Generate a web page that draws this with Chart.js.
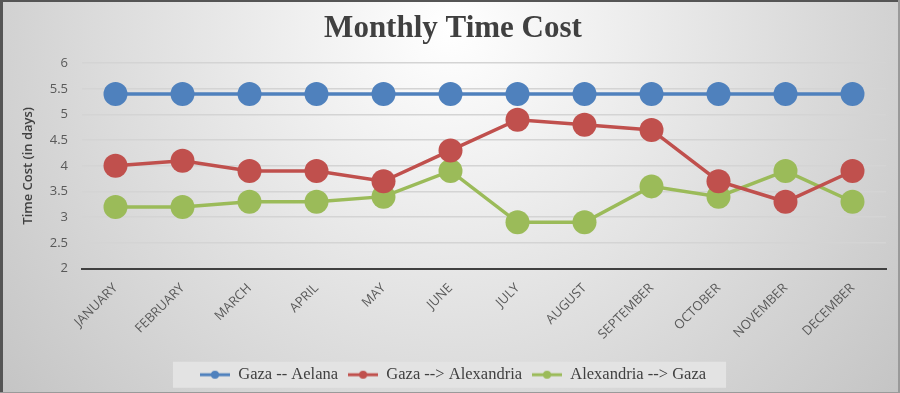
<!DOCTYPE html>
<html>
<head>
<meta charset="utf-8">
<script src="https://cdn.jsdelivr.net/npm/chart.js@4"></script>
<style>
html,body{margin:0;padding:0;background:#fff;}
#wrap{width:900px;height:393px;position:relative;}
</style>
</head>
<body>
<div id="wrap"><canvas id="c" width="900" height="393"></canvas></div>
<script>
const months = ["JANUARY","FEBRUARY","MARCH","APRIL","MAY","JUNE","JULY","AUGUST","SEPTEMBER","OCTOBER","NOVEMBER","DECEMBER"];
const gazaAelana = [5.4,5.4,5.4,5.4,5.4,5.4,5.4,5.4,5.4,5.4,5.4,5.4];
const gazaAlexandria = [4.0,4.1,3.9,3.9,3.7,4.3,4.9,4.8,4.7,3.7,3.3,3.9];
const alexandriaGaza = [3.2,3.2,3.3,3.3,3.4,3.9,2.9,2.9,3.6,3.4,3.9,3.3];
const seriesNames = ["Gaza -- Aelana","Gaza --> Alexandria","Alexandria --> Gaza"];
const colors = ["#4F81BD","#C0504D","#9BBB59"];

function legendMarker(color){
  const cv = document.createElement('canvas');
  cv.width = 30; cv.height = 10;
  const x = cv.getContext('2d');
  x.strokeStyle = color; x.lineWidth = 3;
  x.beginPath(); x.moveTo(0,5); x.lineTo(30,5); x.stroke();
  x.fillStyle = color;
  x.beginPath(); x.arc(15,5,4,0,Math.PI*2); x.fill();
  return cv;
}
const markers = colors.map(legendMarker);

const bgPlugin = {
  id:'bg',
  beforeDraw(chart){
    const ctx = chart.ctx, w = chart.width, h = chart.height;
    ctx.save();
    const g = ctx.createRadialGradient(450,30,0,450,30,620);
    g.addColorStop(0,'#ffffff');
    g.addColorStop(1,'#c0c0c0');
    ctx.fillStyle = g;
    ctx.fillRect(0,0,w,h);
    const lg = chart.legend;
    if (lg && lg.legendHitBoxes && lg.legendHitBoxes.length){
      const hb = lg.legendHitBoxes;
      const l = hb[0].left - 27, r = hb[hb.length-1].left + hb[hb.length-1].width + 20;
      const cy = hb[0].top + hb[0].height/2;
      ctx.fillStyle = '#e3e3e3';
      ctx.fillRect(l, cy - 13, r - l, 26);
    }
    ctx.fillStyle = '#555555';
    ctx.fillRect(0,0,w,2);
    ctx.fillRect(0,0,3,h);
    ctx.fillStyle = '#9a9a9a';
    ctx.fillRect(w-2,0,2,h);
    ctx.fillRect(0,h-1,w,1);
    ctx.restore();
  }
};

new Chart(document.getElementById('c'), {
  type:'line',
  data:{
    labels: months,
    datasets:[
      {label:seriesNames[0], data:gazaAelana, borderColor:colors[0], backgroundColor:colors[0]},
      {label:seriesNames[1], data:gazaAlexandria, borderColor:colors[1], backgroundColor:colors[1]},
      {label:seriesNames[2], data:alexandriaGaza, borderColor:colors[2], backgroundColor:colors[2]}
    ].map(d=>Object.assign(d,{borderWidth:3.5, pointStyle:'circle', pointRadius:12, pointHoverRadius:12, pointBorderWidth:0, tension:0, fill:false}))
  },
  options:{
    responsive:false,
    animation:false,
    devicePixelRatio:1,
    layout:{padding:{left:20,right:14,top:6,bottom:0}},
    plugins:{
      title:{display:true, text:'Monthly Time Cost', color:'#404040',
        font:{family:'"Liberation Serif","Times New Roman",serif', size:31, weight:'bold'},
        padding:{top:4,bottom:16}},
      legend:{position:'bottom',
        labels:{usePointStyle:true, pointStyleWidth:30, padding:10, color:'#404040',
          font:{family:'"Liberation Serif","Times New Roman",serif', size:16.5},
          generateLabels(chart){
            return chart.data.datasets.map((d,i)=>({text:d.label, pointStyle:markers[i], fillStyle:colors[i], strokeStyle:colors[i], lineWidth:0, hidden:false, datasetIndex:i, fontColor:'#404040'}));
          }}
      },
      tooltip:{enabled:false}
    },
    scales:{
      x:{
        offset:true,
        grid:{display:false},
        border:{display:true, color:'#404040', width:2},
        ticks:{minRotation:45, maxRotation:45, color:'#595959', padding:4,
          font:{family:'"Open Sans",sans-serif', size:13}},
        afterFit(s){ s.height = 88; }
      },
      y:{
        min:2, max:6,
        ticks:{stepSize:0.5, color:'#595959', padding:14,
          font:{family:'"Open Sans",sans-serif', size:13},
          callback:v=>String(v)},
        grid:{color:'#d4d4d4', lineWidth:1.5, drawTicks:false},
        border:{display:false},
        title:{display:true, text:'Time Cost (in days)', color:'#404040',
          font:{family:'"Open Sans",sans-serif', size:13, weight:'600'}, padding:{top:0,bottom:2}},
        afterFit(s){ s.width = 62; }
      }
    }
  },
  plugins:[bgPlugin]
});
</script>
</body>
</html>
